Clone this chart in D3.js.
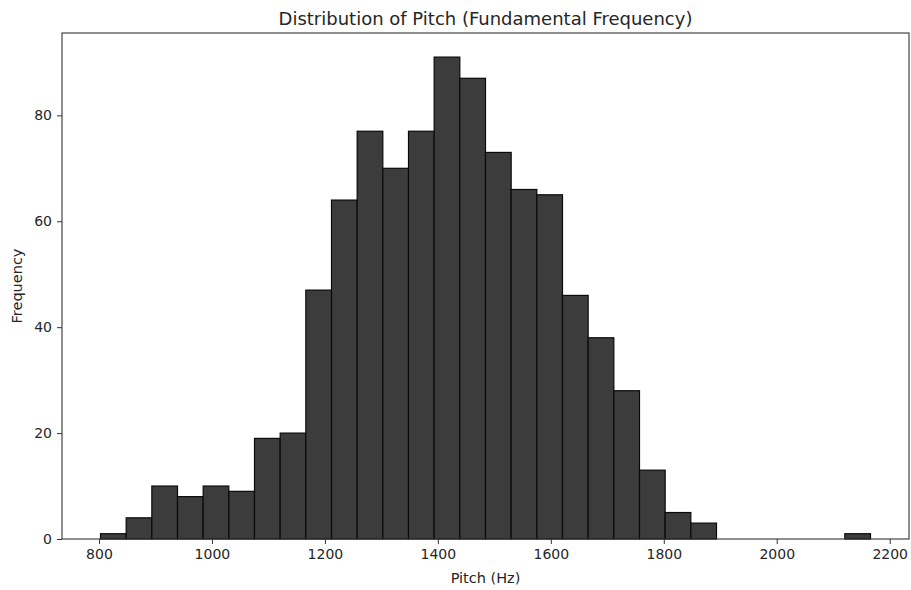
<!DOCTYPE html>
<html>
<head>
<meta charset="utf-8">
<script src="https://cdn.jsdelivr.net/npm/d3@7"></script>
<style>
  html, body { margin: 0; padding: 0; background: #fff; }
  text { font-family: "DejaVu Sans", sans-serif; fill: #262626; }
</style>
</head>
<body>
<svg id="chart" width="911" height="590"></svg>
<script>
// Histogram of pitch values: 30 equal-width bins over the observed range
const pitchMin = 802.7;
const pitchMax = 2166;
const binCounts = [1, 4, 10, 8, 10, 9, 19, 20, 47, 64,
                   77, 70, 77, 91, 87, 73, 66, 65, 46, 38,
                   28, 13, 5, 3, 0, 0, 0, 0, 0, 1];
const xTicks = [800, 1000, 1200, 1400, 1600, 1800, 2000, 2200];
const yTicks = [0, 20, 40, 60, 80];

const titleText = "Distribution of Pitch (Fundamental Frequency)";
const xLabel = "Pitch (Hz)";
const yLabel = "Frequency";

const margin = { top: 33, right: 2, bottom: 51, left: 62 };
const width = 911, height = 590;

const svg = d3.select("#chart");

const nBins = binCounts.length;
const binW = (pitchMax - pitchMin) / nBins;
const bins = binCounts.map((c, i) => ({
  x0: pitchMin + i * binW,
  x1: pitchMin + (i + 1) * binW,
  count: c
}));

// matplotlib-style 5% padding on x; 5% headroom on y
const pad = (pitchMax - pitchMin) * 0.05;
const x = d3.scaleLinear()
  .domain([pitchMin - pad, pitchMax + pad])
  .range([margin.left, width - margin.right]);
const y = d3.scaleLinear()
  .domain([0, d3.max(binCounts) * 1.05])
  .range([height - margin.bottom, margin.top]);

// bars
svg.append("g")
  .selectAll("rect")
  .data(bins.filter(d => d.count > 0))
  .join("rect")
  .attr("x", d => x(d.x0))
  .attr("width", d => x(d.x1) - x(d.x0))
  .attr("y", d => y(d.count))
  .attr("height", d => y(0) - y(d.count))
  .attr("fill", "#3c3c3c")
  .attr("stroke", "#0a0a0a")
  .attr("stroke-width", 1.2);

// axes
const xAxis = svg.append("g")
  .attr("transform", `translate(0,${height - margin.bottom})`)
  .call(d3.axisBottom(x).tickValues(xTicks).tickSize(5).tickPadding(5).tickFormat(d3.format("d")));
const yAxis = svg.append("g")
  .attr("transform", `translate(${margin.left},0)`)
  .call(d3.axisLeft(y).tickValues(yTicks).tickSize(5).tickPadding(5).tickFormat(d3.format("d")));

[xAxis, yAxis].forEach(g => {
  g.select(".domain").remove();
  g.selectAll(".tick line").attr("stroke", "#333");
  g.selectAll(".tick text")
    .style("font-family", "'DejaVu Sans', sans-serif")
    .style("font-size", "14px")
    .attr("fill", "#262626");
});

// frame
svg.append("rect")
  .attr("x", margin.left)
  .attr("y", margin.top)
  .attr("width", width - margin.right - margin.left)
  .attr("height", height - margin.bottom - margin.top)
  .attr("fill", "none")
  .attr("stroke", "#333")
  .attr("stroke-width", 1.1);

// title and axis labels
svg.append("text")
  .attr("x", (margin.left + width - margin.right) / 2)
  .attr("y", 25)
  .attr("text-anchor", "middle")
  .style("font-size", "18px")
  .text(titleText);

svg.append("text")
  .attr("x", (margin.left + width - margin.right) / 2)
  .attr("y", 583)
  .attr("text-anchor", "middle")
  .style("font-size", "14.5px")
  .text(xLabel);

svg.append("text")
  .attr("transform", `translate(22,${(margin.top + height - margin.bottom) / 2}) rotate(-90)`)
  .attr("text-anchor", "middle")
  .style("font-size", "14.5px")
  .text(yLabel);
</script>
</body>
</html>
